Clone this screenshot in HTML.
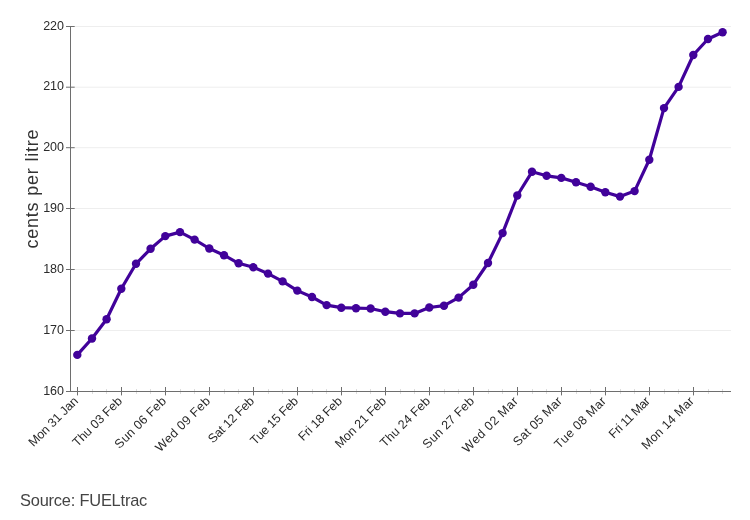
<!DOCTYPE html>
<html lang="en"><head><meta charset="utf-8"><title>Fuel price chart</title>
<style>
html,body{margin:0;padding:0;background:#fff;}
body{width:750px;height:520px;overflow:hidden;position:relative;font-family:"Liberation Sans",sans-serif;}
svg{position:absolute;left:0;top:0;display:block;}
.tick{font-family:"Liberation Sans",sans-serif;font-size:12.5px;fill:#2b2b2b;}
.xt{letter-spacing:0.25px;}
.ytitle{font-family:"Liberation Sans",sans-serif;font-size:18px;fill:#333;letter-spacing:0.8px;}
.src{position:absolute;left:20px;top:488px;font-size:16.4px;line-height:24px;color:#444;white-space:nowrap;letter-spacing:-0.2px;}
</style></head><body>
<svg width="750" height="520" viewBox="0 0 750 520">
<g stroke="#eeeeee" stroke-width="1">
<line x1="71" x2="731" y1="330.5" y2="330.5"/>
<line x1="71" x2="731" y1="269.5" y2="269.5"/>
<line x1="71" x2="731" y1="208.5" y2="208.5"/>
<line x1="71" x2="731" y1="147.7" y2="147.7"/>
<line x1="71" x2="731" y1="87.2" y2="87.2"/>
<line x1="71" x2="731" y1="26.5" y2="26.5"/>
</g>
<g stroke="#ddd" stroke-width="1" shape-rendering="crispEdges">
<line x1="92.5" x2="92.5" y1="389" y2="394"/>
<line x1="106.5" x2="106.5" y1="389" y2="394"/>
<line x1="136.5" x2="136.5" y1="389" y2="394"/>
<line x1="150.5" x2="150.5" y1="389" y2="394"/>
<line x1="180.5" x2="180.5" y1="389" y2="394"/>
<line x1="194.5" x2="194.5" y1="389" y2="394"/>
<line x1="224.5" x2="224.5" y1="389" y2="394"/>
<line x1="238.5" x2="238.5" y1="389" y2="394"/>
<line x1="268.5" x2="268.5" y1="389" y2="394"/>
<line x1="282.5" x2="282.5" y1="389" y2="394"/>
<line x1="312.5" x2="312.5" y1="389" y2="394"/>
<line x1="326.5" x2="326.5" y1="389" y2="394"/>
<line x1="356.5" x2="356.5" y1="389" y2="394"/>
<line x1="370.5" x2="370.5" y1="389" y2="394"/>
<line x1="400.5" x2="400.5" y1="389" y2="394"/>
<line x1="414.5" x2="414.5" y1="389" y2="394"/>
<line x1="444.5" x2="444.5" y1="389" y2="394"/>
<line x1="458.5" x2="458.5" y1="389" y2="394"/>
<line x1="488.5" x2="488.5" y1="389" y2="394"/>
<line x1="502.5" x2="502.5" y1="389" y2="394"/>
<line x1="532.5" x2="532.5" y1="389" y2="394"/>
<line x1="546.5" x2="546.5" y1="389" y2="394"/>
<line x1="576.5" x2="576.5" y1="389" y2="394"/>
<line x1="590.5" x2="590.5" y1="389" y2="394"/>
<line x1="620.5" x2="620.5" y1="389" y2="394"/>
<line x1="634.5" x2="634.5" y1="389" y2="394"/>
<line x1="664.5" x2="664.5" y1="389" y2="394"/>
<line x1="678.5" x2="678.5" y1="389" y2="394"/>
<line x1="708.5" x2="708.5" y1="389" y2="394"/>
<line x1="722.5" x2="722.5" y1="389" y2="394"/>
</g>
<g stroke="#6e6e6e" stroke-width="1">
<line x1="70.5" x2="70.5" y1="26" y2="392"/>
<line x1="66" x2="731" y1="391.5" y2="391.5"/>
<line x1="66" x2="74.7" y1="391.5" y2="391.5"/>
<line x1="66" x2="74.7" y1="330.5" y2="330.5"/>
<line x1="66" x2="74.7" y1="269.5" y2="269.5"/>
<line x1="66" x2="74.7" y1="208.5" y2="208.5"/>
<line x1="66" x2="74.7" y1="147.7" y2="147.7"/>
<line x1="66" x2="74.7" y1="87.2" y2="87.2"/>
<line x1="66" x2="74.7" y1="26.5" y2="26.5"/>
<line x1="77.5" x2="77.5" y1="387" y2="395.4"/>
<line x1="121.5" x2="121.5" y1="387" y2="395.4"/>
<line x1="165.5" x2="165.5" y1="387" y2="395.4"/>
<line x1="209.5" x2="209.5" y1="387" y2="395.4"/>
<line x1="253.5" x2="253.5" y1="387" y2="395.4"/>
<line x1="297.5" x2="297.5" y1="387" y2="395.4"/>
<line x1="341.5" x2="341.5" y1="387" y2="395.4"/>
<line x1="385.5" x2="385.5" y1="387" y2="395.4"/>
<line x1="429.5" x2="429.5" y1="387" y2="395.4"/>
<line x1="473.5" x2="473.5" y1="387" y2="395.4"/>
<line x1="517.5" x2="517.5" y1="387" y2="395.4"/>
<line x1="561.5" x2="561.5" y1="387" y2="395.4"/>
<line x1="605.5" x2="605.5" y1="387" y2="395.4"/>
<line x1="649.5" x2="649.5" y1="387" y2="395.4"/>
<line x1="693.5" x2="693.5" y1="387" y2="395.4"/>
</g>
<g class="tick" text-anchor="end">
<text x="64" y="394.6">160</text>
<text x="64" y="333.6">170</text>
<text x="64" y="272.6">180</text>
<text x="64" y="211.6">190</text>
<text x="64" y="150.8">200</text>
<text x="64" y="90.3">210</text>
<text x="64" y="29.6">220</text>
</g>
<g class="tick xt" text-anchor="end">
<text transform="translate(79.0,401.7) rotate(-45)" textLength="64.4" lengthAdjust="spacing">Mon 31 Jan</text>
<text transform="translate(123.0,401.7) rotate(-45)" textLength="64.4" lengthAdjust="spacing">Thu 03 Feb</text>
<text transform="translate(167.0,401.7) rotate(-45)" textLength="67.1" lengthAdjust="spacing">Sun 06 Feb</text>
<text transform="translate(211.0,401.7) rotate(-45)" textLength="71.8" lengthAdjust="spacing">Wed 09 Feb</text>
<text transform="translate(255.0,401.7) rotate(-45)" textLength="59.5" lengthAdjust="spacing">Sat 12 Feb</text>
<text transform="translate(299.0,401.7) rotate(-45)" textLength="61.8" lengthAdjust="spacing">Tue 15 Feb</text>
<text transform="translate(343.0,401.7) rotate(-45)" textLength="56.4" lengthAdjust="spacing">Fri 18 Feb</text>
<text transform="translate(387.0,401.7) rotate(-45)" textLength="66.5" lengthAdjust="spacing">Mon 21 Feb</text>
<text transform="translate(431.0,401.7) rotate(-45)" textLength="65.0" lengthAdjust="spacing">Thu 24 Feb</text>
<text transform="translate(475.0,401.7) rotate(-45)" textLength="67.1" lengthAdjust="spacing">Sun 27 Feb</text>
<text transform="translate(519.0,401.7) rotate(-45)" textLength="73.1" lengthAdjust="spacing">Wed 02 Mar</text>
<text transform="translate(563.0,401.7) rotate(-45)" textLength="63.6" lengthAdjust="spacing">Sat 05 Mar</text>
<text transform="translate(607.0,401.7) rotate(-45)" textLength="67.4" lengthAdjust="spacing">Tue 08 Mar</text>
<text transform="translate(651.0,401.7) rotate(-45)" textLength="52.6" lengthAdjust="spacing">Fri 11 Mar</text>
<text transform="translate(695.0,401.7) rotate(-45)" textLength="68.6" lengthAdjust="spacing">Mon 14 Mar</text>
</g>
<text class="ytitle" text-anchor="middle" transform="translate(38.2,188.6) rotate(-90)">cents per litre</text>
<path d="M77.3,354.9 L92.0,338.5 L106.6,319.2 L121.3,288.7 L136.0,263.8 L150.6,248.8 L165.3,236.1 L180.0,232.1 L194.6,239.6 L209.3,248.5 L224.0,255.2 L238.6,263.3 L253.3,267.3 L268.0,273.6 L282.6,281.4 L297.3,290.6 L312.0,297.0 L326.6,305.1 L341.3,307.7 L356.0,308.2 L370.6,308.5 L385.3,311.7 L400.0,313.4 L414.6,313.4 L429.3,307.5 L444.0,305.7 L458.6,297.6 L473.3,284.7 L488.0,263.0 L502.6,233.1 L517.3,195.5 L532.0,171.8 L546.6,175.8 L561.3,177.9 L576.0,182.2 L590.6,186.8 L605.3,192.3 L620.0,196.6 L634.6,191.1 L649.3,159.7 L664.0,108.1 L678.6,86.9 L693.3,55.0 L708.0,39.0 L722.6,32.2" fill="none" stroke="#41029a" stroke-width="3.2" stroke-linejoin="round" stroke-linecap="round"/>
<g fill="#41029a">
<circle cx="77.3" cy="354.9" r="4.2"/>
<circle cx="92.0" cy="338.5" r="4.2"/>
<circle cx="106.6" cy="319.2" r="4.2"/>
<circle cx="121.3" cy="288.7" r="4.2"/>
<circle cx="136.0" cy="263.8" r="4.2"/>
<circle cx="150.6" cy="248.8" r="4.2"/>
<circle cx="165.3" cy="236.1" r="4.2"/>
<circle cx="180.0" cy="232.1" r="4.2"/>
<circle cx="194.6" cy="239.6" r="4.2"/>
<circle cx="209.3" cy="248.5" r="4.2"/>
<circle cx="224.0" cy="255.2" r="4.2"/>
<circle cx="238.6" cy="263.3" r="4.2"/>
<circle cx="253.3" cy="267.3" r="4.2"/>
<circle cx="268.0" cy="273.6" r="4.2"/>
<circle cx="282.6" cy="281.4" r="4.2"/>
<circle cx="297.3" cy="290.6" r="4.2"/>
<circle cx="312.0" cy="297.0" r="4.2"/>
<circle cx="326.6" cy="305.1" r="4.2"/>
<circle cx="341.3" cy="307.7" r="4.2"/>
<circle cx="356.0" cy="308.2" r="4.2"/>
<circle cx="370.6" cy="308.5" r="4.2"/>
<circle cx="385.3" cy="311.7" r="4.2"/>
<circle cx="400.0" cy="313.4" r="4.2"/>
<circle cx="414.6" cy="313.4" r="4.2"/>
<circle cx="429.3" cy="307.5" r="4.2"/>
<circle cx="444.0" cy="305.7" r="4.2"/>
<circle cx="458.6" cy="297.6" r="4.2"/>
<circle cx="473.3" cy="284.7" r="4.2"/>
<circle cx="488.0" cy="263.0" r="4.2"/>
<circle cx="502.6" cy="233.1" r="4.2"/>
<circle cx="517.3" cy="195.5" r="4.2"/>
<circle cx="532.0" cy="171.8" r="4.2"/>
<circle cx="546.6" cy="175.8" r="4.2"/>
<circle cx="561.3" cy="177.9" r="4.2"/>
<circle cx="576.0" cy="182.2" r="4.2"/>
<circle cx="590.6" cy="186.8" r="4.2"/>
<circle cx="605.3" cy="192.3" r="4.2"/>
<circle cx="620.0" cy="196.6" r="4.2"/>
<circle cx="634.6" cy="191.1" r="4.2"/>
<circle cx="649.3" cy="159.7" r="4.2"/>
<circle cx="664.0" cy="108.1" r="4.2"/>
<circle cx="678.6" cy="86.9" r="4.2"/>
<circle cx="693.3" cy="55.0" r="4.2"/>
<circle cx="708.0" cy="39.0" r="4.2"/>
<circle cx="722.6" cy="32.2" r="4.2"/>
</g>
</svg>
<div class="src">Source: FUELtrac</div>
</body></html>
